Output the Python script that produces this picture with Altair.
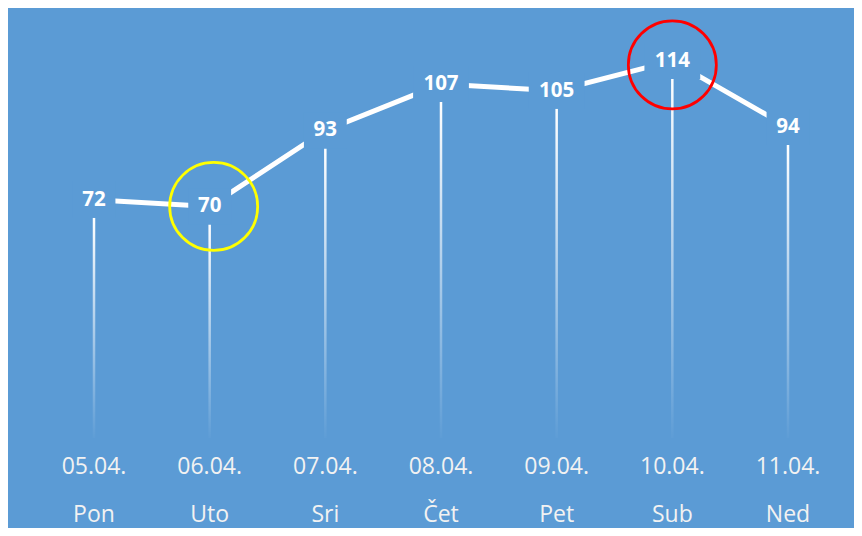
import altair as alt
import pandas as pd

dates = ["05.04.", "06.04.", "07.04.", "08.04.", "09.04.", "10.04.", "11.04."]
days = ["Pon", "Uto", "Sri", "Čet", "Pet", "Sub", "Ned"]
values = [72, 70, 93, 107, 105, 114, 94]

BG = "#5B9BD5"
df = pd.DataFrame({"date": dates, "day": days, "value": values})

x = alt.X("date:O", sort=dates,
          scale=alt.Scale(type="point", range=[86, 780], padding=0), axis=None)
y = alt.Y("value:Q",
          scale=alt.Scale(domain=[0, 130], range=[430, 0], nice=False, zero=True),
          axis=None)

base = alt.Chart(df)

grad = alt.Gradient(
    gradient="linear",
    stops=[alt.GradientStop(color="#FFFFFF", offset=0),
           alt.GradientStop(color="rgba(255,255,255,0.02)", offset=1)],
    x1=0, x2=0, y1=0, y2=1,
)

drops = base.mark_bar(width=2.5, yOffset=18, color=grad).encode(
    x=x, y=y, y2=alt.datum(0)
)

line = base.mark_line(color="white", strokeWidth=5, strokeCap="butt").encode(x=x, y=y)

narrow = "M-1.19,-1L1.19,-1L1.19,1L-1.19,1Z"
wide = "M-1.55,-1L1.55,-1L1.55,1L-1.55,1Z"
boxes = base.mark_point(filled=True, fill=BG, color=BG, strokeWidth=0,
                        opacity=1, size=1296).encode(
    x=x, y=y,
    shape=alt.condition("datum.value >= 100", alt.value(wide), alt.value(narrow)),
)

labels = base.mark_text(color="white", font="Open Sans", fontWeight="bold",
                        fontSize=20.5, baseline="middle").encode(
    x=x, y=y, text="value:Q"
)

hl = base.transform_joinaggregate(vmin="min(value)", vmax="max(value)")
yellow = hl.transform_filter("datum.value == datum.vmin").mark_point(
    shape="circle", size=7744, filled=False, stroke="#FFFF00", strokeWidth=2.75,
    opacity=1, xOffset=4
).encode(x=x, y=y)
red = hl.transform_filter("datum.value == datum.vmax").mark_point(
    shape="circle", size=7744, filled=False, stroke="#FF0000", strokeWidth=2.75,
    opacity=1, yOffset=4
).encode(x=x, y=y)

date_text = base.mark_text(color="#F2F2F2", font="Open Sans", fontSize=23,
                           baseline="middle").encode(
    x=x, y=alt.value(459), text="date:N"
)
day_text = base.mark_text(color="#F2F2F2", font="Open Sans", fontSize=23,
                          baseline="middle").encode(
    x=x, y=alt.value(507), text="day:N"
)

chart = alt.layer(drops, line, boxes, labels, yellow, red, date_text, day_text).properties(
    width=846, height=520, background=BG, padding=0,
    autosize=alt.AutoSizeParams(type="none"),
).configure_view(stroke=None)

chart.save("out.html", embed_options={"renderer": "svg", "actions": False})
